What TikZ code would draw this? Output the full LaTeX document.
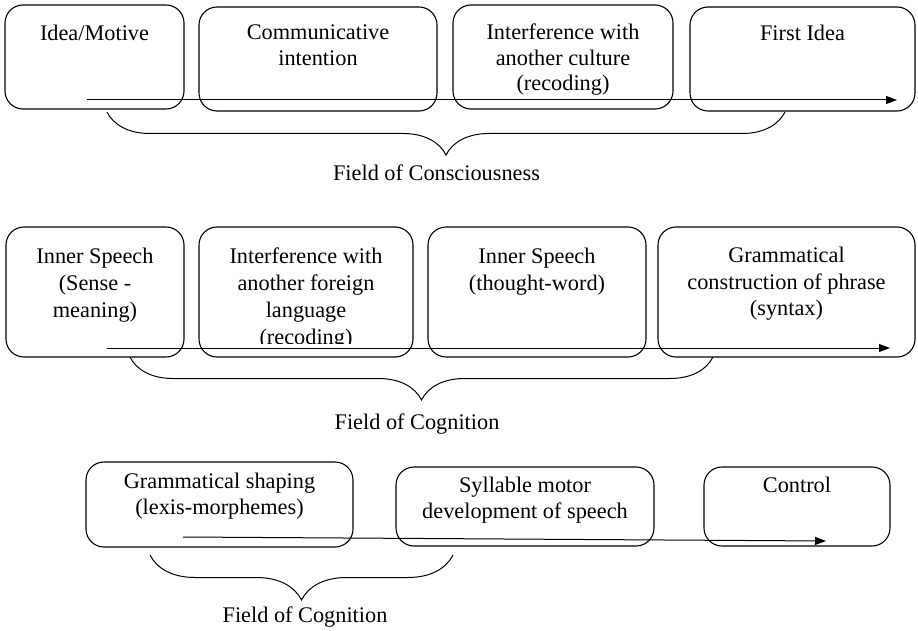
\documentclass[tikz,border=0pt]{standalone}
\usepackage{fontspec}
\setmainfont{Liberation Serif}
\usetikzlibrary{arrows.meta,decorations.pathreplacing}
\tikzset{
  boxshape/.style={draw, rounded corners=18pt, line width=1.1pt, inner sep=0pt},
  boxtext/.style={anchor=north, inner sep=0pt, align=center, font=\fontsize{22.3}{#1}\selectfont},
  boxtext/.default=26,
  flow/.style={line width=1pt, -{Triangle[length=11pt,width=8pt]}},
  fieldbrace/.style={line width=1pt, decorate, decoration={brace, mirror, amplitude=#1}},
  fieldlabel/.style={anchor=base, inner sep=0pt, font=\fontsize{22.3}{26}\selectfont}
}
% name, x1, y1, x2, y2
\newcommand\mybox[5]{%
  \node[boxshape, minimum width={(#4-#2)*1pt}, minimum height={(#5-#3)*1pt}] (#1) at ({(#2+#4)/2},{(#3+#5)/2}) {};}
\begin{document}
\begin{tikzpicture}[x=1pt,y=-1pt]
\useasboundingbox (0,0) rectangle (918,631);
% Row 1
\mybox{a1}{5}{5}{184}{109}
\mybox{a2}{199}{7}{437}{111}
\mybox{a3}{453}{5}{673}{109}
\mybox{a4}{690}{7}{915}{111}
\node[boxtext] (a1t) at (a1.center |- 0,25) {Idea/Motive};
\node[boxtext] (a2t) at (a2.center |- 0,25) {Communicative\\intention};
\node[boxtext=25.2] (a3t) at (a3.center |- 0,24) {Interference with\\another culture\\(recoding)};
\node[boxtext] (a4t) at (a4.center |- 0,25) {First Idea};
\coordinate (r1s) at (87,100);
\coordinate (r1e) at (897,100);
\draw[flow] (r1s) -- (r1e);
\coordinate (br1s) at (107,112);
\coordinate (br1e) at (785,112);
\draw[fieldbrace=43pt] (br1s) -- (br1e);
\node[fieldlabel] (f1) at (436.5,181) {Field of Consciousness};
% Row 2
\mybox{b1}{6}{227}{184}{357}
\mybox{b2}{199}{227}{413}{357}
\mybox{b3}{428}{227}{646}{357}
\mybox{b4}{658}{227}{915}{357}
\node[boxtext=27] (b1t) at (b1.center |- 0,248) {Inner Speech\\(Sense -\\meaning)};
\begin{scope}
\clip (199,227) rectangle (413,343);
\node[boxtext=27] (b2t) at (b2.center |- 0,248) {Interference with\\another foreign\\language\\(recoding)};
\end{scope}
\node[boxtext=27] (b3t) at (b3.center |- 0,248) {Inner Speech\\(thought-word)};
\node[boxtext=26.5] (b4t) at (b4.center |- 0,247) {Grammatical\\construction of phrase\\(syntax)};
\coordinate (r2s) at (107,348);
\coordinate (r2e) at (890,348);
\draw[flow] (r2s) -- (r2e);
\coordinate (br2s) at (130,357);
\coordinate (br2e) at (713,357);
\draw[fieldbrace=43pt] (br2s) -- (br2e);
\node[fieldlabel] (f2) at (417,429) {Field of Cognition};
% Row 3
\mybox{c1}{86}{462}{353}{547}
\mybox{c2}{396}{467}{654}{546}
\mybox{c3}{704}{467}{890}{546}
\node[boxtext] (c1t) at (c1.center |- 0,473) {Grammatical shaping\\(lexis-morphemes)};
\node[boxtext] (c2t) at (c2.center |- 0,477) {Syllable motor\\development of speech};
\node[boxtext] (c3t) at (c3.center |- 0,477) {Control};
\coordinate (r3s) at (183,537);
\coordinate (r3e) at (826,541);
\draw[flow] (r3s) -- (r3e);
\coordinate (br3s) at (150,555);
\coordinate (br3e) at (453,555);
\draw[fieldbrace=45pt] (br3s) -- (br3e);
\node[fieldlabel] (f3) at (305,622) {Field of Cognition};
\end{tikzpicture}
\end{document}
